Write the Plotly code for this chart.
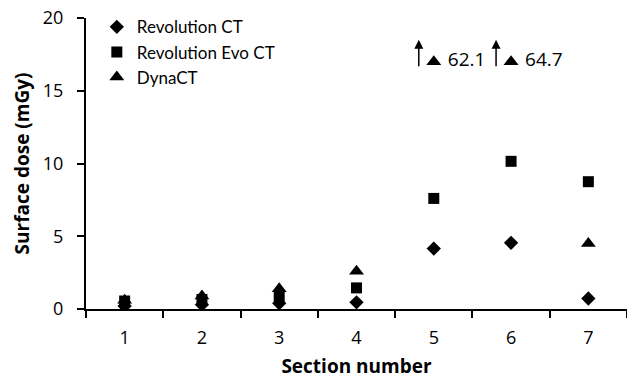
import plotly.graph_objects as go

sections = ["1", "2", "3", "4", "5", "6", "7"]
revolution_ct = [0.2, 0.3, 0.4, 0.46, 4.15, 4.55, 0.72]
revolution_evo_ct = [0.55, 0.65, 0.9, 1.45, 7.6, 10.15, 8.75]
dyna_ct = [0.6, 0.9, 1.4, 2.6, 62.1, 64.7, 4.5]

Y_MAX = 20
OFFSCALE_Y = 17  # display level for off-scale values

FONT = "Open Sans"
LFONT = "Lato"

fig = go.Figure()

fig.add_trace(go.Scatter(x=sections, y=revolution_ct, mode="markers", name="Revolution CT",
                         marker=dict(symbol="diamond", size=11, color="black")))
fig.add_trace(go.Scatter(x=sections, y=revolution_evo_ct, mode="markers", name="Revolution Evo CT",
                         marker=dict(symbol="square", size=11, color="black")))

in_x = [s for s, v in zip(sections, dyna_ct) if v <= Y_MAX]
in_y = [v for v in dyna_ct if v <= Y_MAX]
fig.add_trace(go.Scatter(x=in_x, y=in_y, mode="markers", name="DynaCT",
                         marker=dict(symbol="triangle-up", size=13, color="black")))

off_idx = [i for i, v in enumerate(dyna_ct) if v > Y_MAX]
off_x = [sections[i] for i in off_idx]
off_v = [dyna_ct[i] for i in off_idx]
fig.add_trace(go.Scatter(x=off_x, y=[OFFSCALE_Y] * len(off_x), mode="markers+text",
                         text=[f" {v:.1f}" for v in off_v], textposition="middle right",
                         textfont=dict(family=FONT, size=19, color="black"),
                         marker=dict(symbol="triangle-up", size=13, color="black"),
                         showlegend=False, cliponaxis=False))

for i in off_idx:
    fig.add_annotation(x=i, y=18.5, xref="x", yref="y", text="", showarrow=True,
                       ax=0, ay=28, xshift=-15, arrowhead=2, arrowsize=1.2,
                       arrowwidth=1.5, arrowcolor="black")

axis_common = dict(showline=True, linecolor="black", linewidth=2, ticks="outside",
                   tickcolor="black", tickwidth=2, ticklen=7, showgrid=False,
                   zeroline=False, tickfont=dict(family=FONT, size=18, color="black"))

fig.update_xaxes(type="category", categoryorder="array", categoryarray=sections,
                 tickson="boundaries", range=[-0.5, 6.5], ticklabelstandoff=11,
                 title=dict(text="<b>Section number</b>", font=dict(family=FONT, size=19, color="black"),
                            standoff=13),
                 **axis_common)
fig.update_yaxes(range=[0, Y_MAX], tickvals=[0, 5, 10, 15, 20], ticklabelstandoff=10,
                 title=dict(text="<b>Surface dose (mGy)</b>", font=dict(family=FONT, size=19, color="black"),
                            standoff=8),
                 **axis_common)

fig.update_layout(
    width=627, height=379,
    margin=dict(l=86, r=0, t=18, b=70),
    plot_bgcolor="white", paper_bgcolor="white",
    legend=dict(x=0.02, y=1.03, xanchor="left", yanchor="top",
                font=dict(family=LFONT, size=17, color="black"),
                bgcolor="rgba(0,0,0,0)", tracegroupgap=0, itemwidth=30),
    font=dict(family=FONT, color="black"),
)

fig.write_html("out.html")
